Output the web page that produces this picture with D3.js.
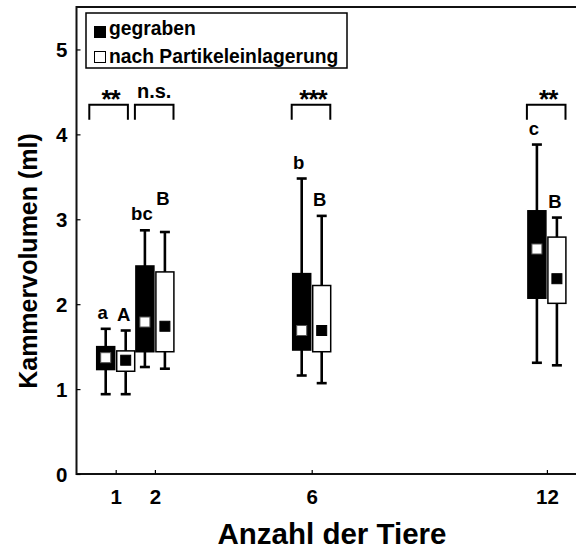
<!DOCTYPE html>
<html>
<head>
<meta charset="utf-8">
<script src="https://cdn.jsdelivr.net/npm/d3@7"></script>
<style>
  body { margin: 0; background: #fff; }
  svg { display: block; }
  text { font-family: "Liberation Sans", Arial, sans-serif; font-weight: bold; fill: #000; }
</style>
</head>
<body>
<div id="chart"></div>
<script>
// Anzahl der Tiere (x categories)
var groups = [1, 2, 6, 12];

// box stats per group: lower whisker, q1, q3, upper whisker, mean
var gegraben = [
  {lo: 0.94, q1: 1.23, q3: 1.50, hi: 1.71, mean: 1.37},
  {lo: 1.26, q1: 1.44, q3: 2.45, hi: 2.87, mean: 1.79},
  {lo: 1.16, q1: 1.46, q3: 2.36, hi: 3.48, mean: 1.69},
  {lo: 1.31, q1: 2.07, q3: 3.10, hi: 3.88, mean: 2.65}
];
var partikel = [
  {lo: 0.94, q1: 1.21, q3: 1.45, hi: 1.69, mean: 1.34},
  {lo: 1.24, q1: 1.44, q3: 2.38, hi: 2.85, mean: 1.74},
  {lo: 1.07, q1: 1.44, q3: 2.22, hi: 3.04, mean: 1.69},
  {lo: 1.28, q1: 2.01, q3: 2.79, hi: 3.02, mean: 2.30}
];

var gegrabenLetters = ["a", "bc", "b", "c"];
var partikelLetters = ["A", "B", "B", "B"];
var signif = ["**", "n.s.", "***", "**"];
var bracketLevel = 4.35;

var yTicks = [0, 1, 2, 3, 4, 5];
var legendLabels = ["gegraben", "nach Partikeleinlagerung"];

var W = 576, H = 552;
var x = d3.scaleLinear().domain([0, 12.75]).range([76.5, 576.3]);
var y = d3.scaleLinear().domain([0, 5.5]).range([474, 7]);

var svg = d3.select("#chart").append("svg")
  .attr("width", W).attr("height", H);

// frame (right edge falls outside the picture)
svg.append("rect")
  .attr("x", x(0)).attr("y", y(5.5))
  .attr("width", x(12.9) - x(0)).attr("height", y(0) - y(5.5))
  .attr("fill", "none").attr("stroke", "#111").attr("stroke-width", 2);

// y axis
var yAxis = svg.append("g")
  .attr("transform", "translate(" + x(0) + ",0)")
  .call(d3.axisRight(y).tickValues(yTicks).tickSize(4).tickFormat(d3.format("d")));
yAxis.select(".domain").remove();
yAxis.selectAll("line").attr("stroke", "#000").attr("stroke-width", 1.2);
yAxis.selectAll("text")
  .attr("x", -9).attr("text-anchor", "end")
  .style("font-size", "20.5px").attr("dy", "0.36em");

// x axis
var xAxis = svg.append("g")
  .attr("transform", "translate(0," + y(0) + ")")
  .call(d3.axisTop(x).tickValues(groups).tickSize(4).tickFormat(d3.format("d")));
xAxis.select(".domain").remove();
xAxis.selectAll("line").attr("stroke", "#000").attr("stroke-width", 1.2);
xAxis.selectAll("text")
  .attr("y", 30).attr("dy", 0)
  .style("font-size", "20.5px");

// axis titles
svg.append("text")
  .attr("x", 332).attr("y", 544)
  .attr("text-anchor", "middle")
  .style("font-size", "29.5px")
  .text("Anzahl der Tiere");

svg.append("text")
  .attr("transform", "translate(37," + 261 + ") rotate(-90)")
  .attr("text-anchor", "middle")
  .style("font-size", "25px")
  .text("Kammervolumen (ml)");

// boxes
var off = 10, bw = 18, capW = 10, mk = 10;

function drawBox(g, d, cx, dark) {
  g.append("line")
    .attr("x1", cx).attr("x2", cx)
    .attr("y1", y(d.lo)).attr("y2", y(d.hi))
    .attr("stroke", "#000").attr("stroke-width", 2.6);
  [d.lo, d.hi].forEach(function(v) {
    g.append("line")
      .attr("x1", cx - capW / 2).attr("x2", cx + capW / 2)
      .attr("y1", y(v)).attr("y2", y(v))
      .attr("stroke", "#000").attr("stroke-width", 2.6);
  });
  g.append("rect")
    .attr("x", cx - bw / 2).attr("width", bw)
    .attr("y", y(d.q3)).attr("height", y(d.q1) - y(d.q3))
    .attr("fill", dark ? "#000" : "#fff")
    .attr("stroke", "#000").attr("stroke-width", 1.5);
  g.append("rect")
    .attr("x", cx - mk / 2).attr("width", mk)
    .attr("y", y(d.mean) - mk / 2).attr("height", mk)
    .attr("fill", dark ? "#fff" : "#000")
    .attr("stroke", dark ? "#555" : "#000").attr("stroke-width", 1);
}

var boxes = svg.append("g");
groups.forEach(function(c, i) {
  var cb = x(c) - off, cw = x(c) + off;
  drawBox(boxes, gegraben[i], cb, true);
  drawBox(boxes, partikel[i], cw, false);

  var by = y(gegraben[i].hi) - 10;
  boxes.append("text")
    .attr("x", cb - 3).attr("y", by)
    .attr("text-anchor", "middle")
    .style("font-size", "18.5px")
    .text(gegrabenLetters[i]);
  // raise the second letter when the first one is wide
  var wy = y(partikel[i].hi) - 10;
  if (gegrabenLetters[i].length > 1) wy = Math.min(wy, by - 15);
  boxes.append("text")
    .attr("x", cw - 2).attr("y", wy)
    .attr("text-anchor", "middle")
    .style("font-size", "18.5px")
    .text(partikelLetters[i]);
});

// significance brackets
var bW = 38.6;
var bLeft = groups.map(function(c) { return x(c) - 20; });
for (var i = bLeft.length - 2; i >= 0; i--) {
  if (bLeft[i] + bW > bLeft[i + 1] - 7) bLeft[i] = bLeft[i + 1] - 7 - bW;
}
var sig = svg.append("g");
groups.forEach(function(c, i) {
  var l = bLeft[i], r = l + bW, ty = y(bracketLevel);
  sig.append("path")
    .attr("d", "M" + l + "," + (ty + 15) + "V" + ty + "H" + r + "V" + (ty + 15))
    .attr("fill", "none").attr("stroke", "#000").attr("stroke-width", 2);
  var star = signif[i].indexOf("*") >= 0;
  sig.append("text")
    .attr("x", (l + r) / 2 + (star ? 2 : 0))
    .attr("y", star ? ty + 3 : ty - 7)
    .attr("text-anchor", "middle")
    .style("font-size", star ? "26px" : "20px")
    .style("letter-spacing", star ? "-1px" : "0px")
    .text(signif[i]);
});

// legend
var lg = svg.append("g");
lg.append("rect")
  .attr("x", 86).attr("y", 13).attr("width", 261).attr("height", 55)
  .attr("fill", "#fff").attr("stroke", "#000").attr("stroke-width", 1.5);
legendLabels.forEach(function(t, i) {
  var yy = 26 + i * 25;
  lg.append("rect")
    .attr("x", i ? 94.5 : 94).attr("y", i ? yy + 0.5 : yy)
    .attr("width", i ? 11 : 12).attr("height", i ? 11 : 12)
    .attr("fill", i ? "#fff" : "#000")
    .attr("stroke", "#000").attr("stroke-width", i ? 1 : 0);
  lg.append("text")
    .attr("x", 109).attr("y", yy + (i ? 12 : 9))
    .style("font-size", "19.3px")
    .text(t);
});
</script>
</body>
</html>
